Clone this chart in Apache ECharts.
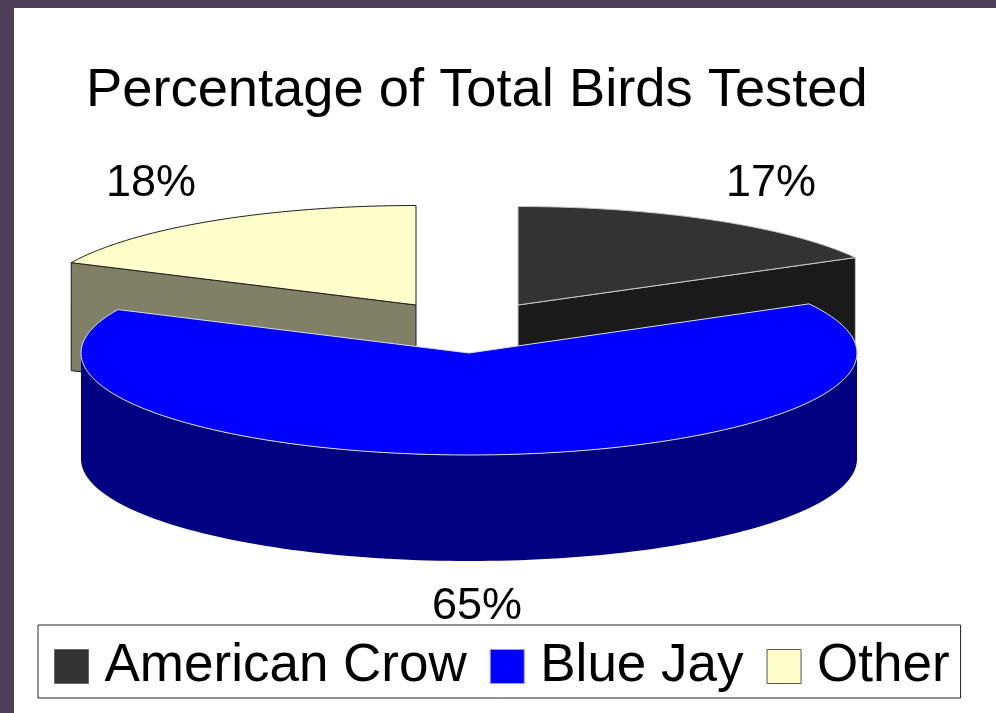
<!DOCTYPE html>
<html>
<head>
<meta charset="utf-8">
<style>html,body{margin:0;padding:0;background:#4d3f5a}#c{width:996px;height:713px}</style>
<script src="https://cdn.jsdelivr.net/npm/echarts@6/dist/echarts.min.js"></script>
</head>
<body>
<div id="c"></div>
<script>
var titleText = 'Percentage of Total Birds Tested';
var categories = ['American Crow', 'Blue Jay', 'Other'];
var shares = [17, 65, 18];

var FONT = '"Liberation Sans", Arial, sans-serif';
var styles = [
  {top:'#333333', side:'#1a1a1a', rim:'#c8c8c8', cx:518, cy:305, rx:385, ry:98.5, depth:108, lx:771, ly:184},
  {top:'#0000ff', side:'#000080', rim:'#dcdce8', cx:469, cy:353, rx:388, ry:102, depth:106, lx:477, ly:607},
  {top:'#ffffcc', side:'#808066', rim:'#1c1c1c', cx:416, cy:305, rx:381, ry:99.5, depth:108, lx:151, ly:184}
];

function pt(s, deg, dy) {
  var a = deg * Math.PI / 180;
  return [s.cx + s.rx * Math.sin(a), s.cy - s.ry * Math.cos(a) + (dy || 0)];
}
function arc(s, a0, a1, dy) {
  var out = [], n = 120;
  for (var i = 0; i <= n; i++) out.push(pt(s, a0 + (a1 - a0) * i / n, dy));
  return out;
}
function renderSlice(params, api) {
  var idx = params.seriesIndex;
  var s = styles[idx];
  var total = shares.reduce(function (p, c) { return p + c; }, 0);
  var before = 0;
  for (var i = 0; i < idx; i++) before += shares[i];
  var a0 = before / total * 360;
  var a1 = (before + api.value(0)) / total * 360;
  var apex = [s.cx, s.cy];
  var kids = [];
  var sidePts;
  if (idx === 1) {
    // Front slice: outer wall between the left and right extremes
    sidePts = arc(s, 90, 270, 0).concat(arc(s, 270, 90, s.depth));
  } else if (idx === 0) {
    var e = pt(s, a1);
    sidePts = [apex, e, [e[0], e[1] + s.depth], [apex[0], apex[1] + s.depth]];
  } else {
    var b = pt(s, a0);
    sidePts = [apex, b, [b[0], b[1] + s.depth], [apex[0], apex[1] + s.depth]];
  }
  kids.push({type:'polygon', shape:{points:sidePts},
    style:{fill:s.side, stroke: idx === 1 ? s.side : s.rim, lineWidth: idx === 1 ? 0 : 1}});
  kids.push({type:'polygon', shape:{points:[apex].concat(arc(s, a0, a1, 0))},
    style:{fill:s.top, stroke:s.rim, lineWidth:1}});
  kids.push({type:'text', style:{text:api.value(0) + '%', x:s.lx, y:s.ly, align:'center',
    verticalAlign:'middle', fill:'#000', font:'45px ' + FONT}});
  return {type:'group', children:kids};
}

var series = categories.map(function (name, i) {
  return {
    type:'custom', name:name, coordinateSystem:'none', z: i === 1 ? 4 : 3,
    itemStyle:{color:styles[i].top},
    renderItem:renderSlice, data:[[shares[i]]], silent:true, animation:false
  };
});

var chart = echarts.init(document.getElementById('c'), null, {renderer:'canvas'});
chart.setOption({
  backgroundColor:'#4d3f5a',
  animation:false,
  graphic:[{type:'rect', z:0, silent:true, shape:{x:14, y:8, width:982, height:705}, style:{fill:'#ffffff'}}],
  title:{text:titleText, left:86, top:61, padding:0,
    textStyle:{fontFamily:FONT, fontSize:54.3, fontWeight:'normal', color:'#000', lineHeight:60}},
  legend:{
    left:38, top:625, orient:'horizontal',
    padding:[15, 11, 5, 16], itemGap:23, itemWidth:34, itemHeight:34,
    backgroundColor:'#ffffff', borderColor:'#222', borderWidth:1, borderRadius:0,
    icon:'rect',
    textStyle:{fontFamily:FONT, fontSize:53, color:'#000', padding:[7,0,0,11]},
    data:categories.map(function (n, i) {
      return {name:n, icon:'rect', itemStyle:{color:styles[i].top, borderColor: i===2 ? '#555' : (i===1 ? '#9999ff' : '#666'), borderWidth:1}};
    })
  },
  series:series
});
</script>
</body>
</html>
